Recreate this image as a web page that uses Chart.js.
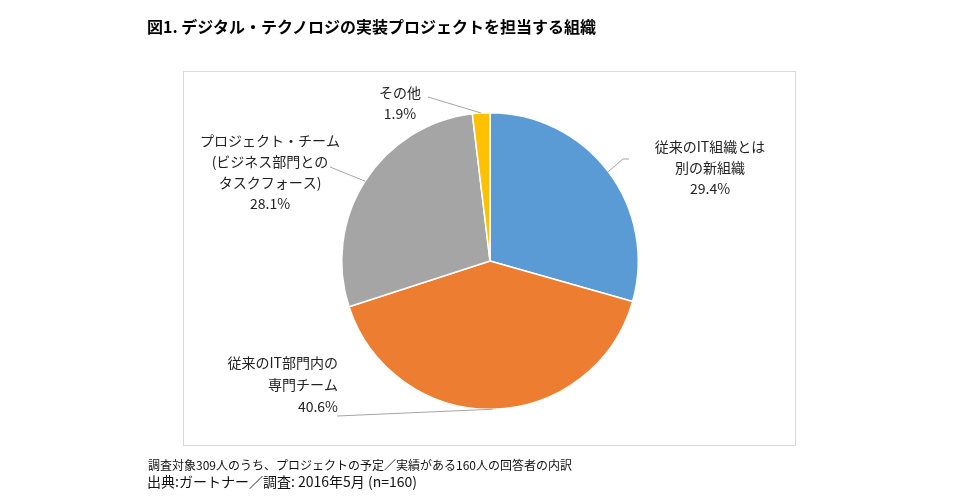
<!DOCTYPE html>
<html><head><meta charset="utf-8">
<script src="https://cdn.jsdelivr.net/npm/chart.js@4/dist/chart.umd.min.js"></script>
<style>
html,body{margin:0;padding:0;background:#fff;}
#wrap{position:relative;width:956px;height:503px;overflow:hidden;}
canvas{position:absolute;left:0;top:0;}
.t{position:absolute;font-family:"Noto Sans CJK JP","Noto Sans",sans-serif;color:#000;white-space:nowrap;}
#title{left:147px;top:15px;font-size:16px;font-weight:bold;line-height:22px;}
#note1{left:148px;top:456px;font-size:12px;line-height:18px;color:#111;}
#note2{left:147px;top:471px;font-size:14px;line-height:20px;color:#111;}
</style></head>
<body><div id="wrap">
<canvas id="c" width="956" height="503"></canvas>
<div class="t" id="title">図1. デジタル・テクノロジの実装プロジェクトを担当する組織</div>
<div class="t" id="note1">調査対象309人のうち、プロジェクトの予定／実績がある160人の回答者の内訳</div>
<div class="t" id="note2">出典:ガートナー／調査: 2016年5月 (n=160)</div>
</div>
<script>
const categories = ['従来のIT組織とは別の新組織', '従来のIT部門内の専門チーム', 'プロジェクト・チーム(ビジネス部門とのタスクフォース)', 'その他'];
const values = [29.4, 40.6, 28.1, 1.9];
const labelLines = [
  ['従来のIT組織とは', '別の新組織'],
  ['従来のIT部門内の', '専門チーム'],
  ['プロジェクト・チーム', '(ビジネス部門との', 'タスクフォース)'],
  ['その他']
];
const percentLabels = values.map(v => v.toFixed(1) + '%');
const colors = ['#5B9BD5', '#ED7D31', '#A5A5A5', '#FFC000'];

// label layout (text anchor x, first line center y, line step, alignment, leader end points)
const labelLayout = [
  {x: 710, y: 147, step: 21, align: 'center', leader: [[623,159],[629,159]]},
  {x: 338, y: 363, step: 22, align: 'right', leader: [[337,416]]},
  {x: 270, y: 141, step: 21, align: 'center', leader: [[330,167]]},
  {x: 400, y: 93, step: 21, align: 'center', leader: [[428,97]]}
];

const decor = {
  id: 'decor',
  beforeDraw(chart) {
    const ctx = chart.ctx;
    ctx.save();
    ctx.fillStyle = '#fff';
    ctx.fillRect(0, 0, chart.width, chart.height);
    ctx.strokeStyle = '#D9D9D9';
    ctx.lineWidth = 1;
    ctx.strokeRect(183.5, 71.5, 612, 374);
    ctx.restore();
  },
  afterDatasetsDraw(chart) {
    const ctx = chart.ctx;
    const meta = chart.getDatasetMeta(0);
    ctx.save();
    meta.data.forEach((arc, i) => {
      const L = labelLayout[i];
      const mid = (arc.startAngle + arc.endAngle) / 2;
      const px = arc.x + Math.cos(mid) * arc.outerRadius;
      const py = arc.y + Math.sin(mid) * arc.outerRadius;
      ctx.strokeStyle = '#A6A6A6';
      ctx.lineWidth = 1;
      ctx.beginPath();
      ctx.moveTo(px, py);
      L.leader.forEach(p => ctx.lineTo(p[0], p[1]));
      ctx.stroke();
      const lines = labelLines[i].concat([percentLabels[i]]);
      ctx.fillStyle = '#222';
      ctx.font = '14px "Noto Sans CJK JP", "Noto Sans", sans-serif';
      ctx.textAlign = L.align;
      ctx.textBaseline = 'middle';
      lines.forEach((s, k) => ctx.fillText(s, L.x, L.y + k * L.step));
    });
    ctx.restore();
  }
};

new Chart(document.getElementById('c'), {
  type: 'pie',
  data: {
    labels: categories,
    datasets: [{
      data: values,
      backgroundColor: colors,
      borderColor: '#ffffff',
      borderWidth: 1.5
    }]
  },
  options: {
    responsive: false,
    animation: false,
    layout: {padding: {left: 341, right: 317, top: 112, bottom: 93}},
    plugins: {legend: {display: false}, tooltip: {enabled: false}, title: {display: false}}
  },
  plugins: [decor]
});
</script>
</body></html>
